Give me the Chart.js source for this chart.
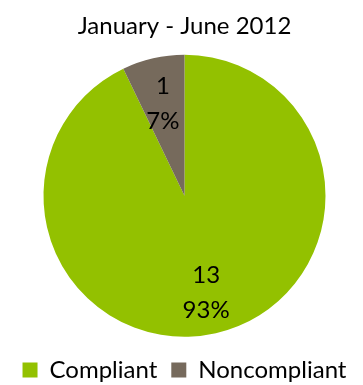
<!DOCTYPE html>
<html>
<head>
<meta charset="utf-8">
<script src="https://cdn.jsdelivr.net/npm/chart.js@4/dist/chart.umd.min.js"></script>
<style>
  html, body { margin: 0; padding: 0; background: #fff; }
  #wrap { width: 363px; height: 385px; position: relative; }
</style>
</head>
<body>
<div id="wrap"><canvas id="chart"></canvas></div>
<script>
const chartTitle = 'January - June 2012';
const categories = ['Compliant', 'Noncompliant'];
const counts = [13, 1];
const percents = ['93%', '7%'];
const colors = ['#93C100', '#766A5C'];
const fontFamily = 'Lato, "Open Sans", sans-serif';

// draw "count / percent" labels inside each slice
const sliceLabels = {
  id: 'sliceLabels',
  afterDatasetsDraw(chart) {
    const ctx = chart.ctx;
    const meta = chart.getDatasetMeta(0);
    ctx.save();
    ctx.fillStyle = '#000';
    ctx.font = '24px ' + fontFamily;
    ctx.textAlign = 'center';
    ctx.textBaseline = 'middle';
    meta.data.forEach((arc, i) => {
      const p = arc.getProps(['x', 'y', 'startAngle', 'endAngle', 'outerRadius'], true);
      const mid = (p.startAngle + p.endAngle) / 2;
      const r = p.outerRadius * 0.69;
      const x = p.x + Math.cos(mid) * r;
      const y = p.y + Math.sin(mid) * r + 2;
      ctx.fillText(String(counts[i]), x, y - 17);
      ctx.fillText(percents[i], x, y + 18);
    });
    ctx.restore();
  }
};

new Chart(document.getElementById('chart'), {
  type: 'pie',
  data: {
    labels: categories,
    datasets: [{ data: counts, backgroundColor: colors, borderWidth: 0 }]
  },
  options: {
    responsive: true,
    maintainAspectRatio: false,
    animation: false,
    layout: { padding: { left: 6, top: 0, bottom: -7 } },
    plugins: {
      title: {
        display: true, text: chartTitle, color: '#000',
        font: { family: fontFamily, size: 24, weight: 'normal' },
        padding: { top: 12, bottom: 14 }
      },
      legend: {
        position: 'bottom',
        // empty legend title only used as a spacer above the items
        title: { display: true, text: '', font: { size: 1 }, padding: { top: 0, bottom: 6 } },
        labels: {
          color: '#000', boxWidth: 15, boxHeight: 15, padding: 14,
          font: { family: fontFamily, size: 24 }
        }
      },
      tooltip: { enabled: false }
    }
  },
  plugins: [sliceLabels]
});
</script>
</body>
</html>
